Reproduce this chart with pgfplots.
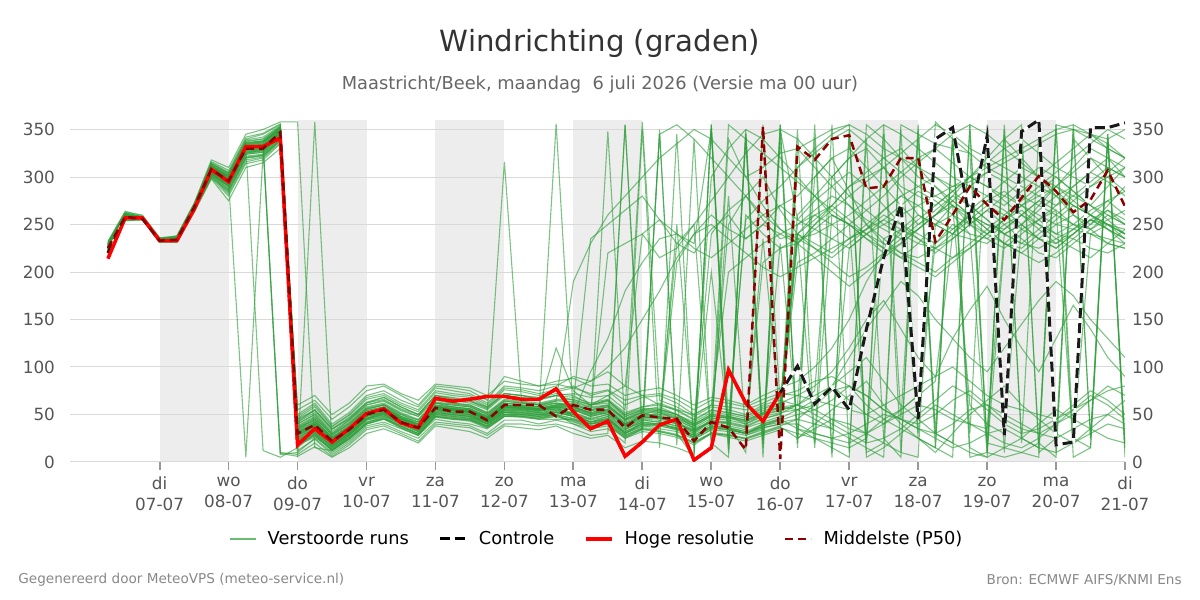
\documentclass[border=0pt]{standalone}
\usepackage{fontspec}
\setmainfont{DejaVu Sans}
\usepackage{pgfplots}
\usepackage{pgfplotstable}
\pgfplotsset{compat=1.18}

\definecolor{runsgreen}{HTML}{2E9E3A}
\definecolor{medianred}{HTML}{8B0000}
\definecolor{bandgrey}{HTML}{EDEDED}
\definecolor{gridgrey}{HTML}{D9D9D9}
\definecolor{ticktext}{HTML}{555555}
\definecolor{titletext}{HTML}{333333}
\definecolor{subtext}{HTML}{666666}
\definecolor{foottext}{HTML}{888888}

% t = days since Monday 6 July 00 uur; c = control, h = high resolution, m = median (P50)
\pgfplotstableread{
t c h m
0.25 220 214 225
0.5 257 257 258
0.75 257 257 256
1 233 233 233
1.25 233 233 234
1.5 266 266 268
1.75 308 308 308
2 295 295 296
2.25 332 332 330
2.5 332 332 330
2.75 341 341 347
3 18 18 30
3.25 35 35 39
3.5 21 21 22
3.75 35 35 34
4 51 51 50
4.25 56 56 55
4.5 41 41 42
4.75 36 36 36
5 67 67 57
5.25 64 64 53
5.5 66 66 53
5.75 69 69 44
6 69 69 60
6.25 66 66 60
6.5 66 66 60
6.75 77 77 48
7 53 53 60
7.25 35 35 55
7.5 43 43 55
7.75 6 6 36
8 21 21 49
8.25 39 39 47
8.5 45 45 45
8.75 2 2 22
9 15 15 42
9.25 97 97 36
9.5 62 62 13
9.75 43 43 353
10 73 73 3
10.25 101 nan 332
10.5 61 nan 318
10.75 79 nan 340
11 55 nan 344
11.25 140 nan 288
11.5 215 nan 290
11.75 271 nan 320
12 45 nan 320
12.25 340 nan 232
12.5 352 nan 260
12.75 255 nan 290
13 343 nan 271
13.25 28 nan 255
13.5 348 nan 278
13.75 360 nan 301
14 18 nan 285
14.25 21 nan 263
14.5 352 nan 276
14.75 352 nan 307
15 357 nan 269
}\mainruns

% perturbed runs: one row per member, one column per 6-hour step
\pgfplotstableread[header=has colnames]{
0.25 0.5 0.75 1 1.25 1.5 1.75 2 2.25 2.5 2.75 3 3.25 3.5 3.75 4 4.25 4.5 4.75 5 5.25 5.5 5.75 6 6.25 6.5 6.75 7 7.25 7.5 7.75 8 8.25 8.5 8.75 9 9.25 9.5 9.75 10 10.25 10.5 10.75 11 11.25 11.5 11.75 12 12.25 12.5 12.75 13 13.25 13.5 13.75 14 14.25 14.5 14.75 15
228 260 255 232 236 270 312 300 335 338 350 35 45 25 38 55 60 48 40 62 58 56 48 62 60 58 62 58 50 55 40 48 52 45 35 42 250 280 300 265 240 255 270 290 300 310 285 260 250 240 265 280 295 310 300 280 260 250 270 290
222 256 258 235 232 265 305 290 325 328 342 25 35 18 30 48 52 42 35 55 52 50 42 55 55 52 55 50 42 48 30 40 40 35 25 38 35 30 40 45 350 20 355 10 340 25 5 350 15 345 30 355 10 340 20 5 350 25 345 15
230 262 258 234 238 272 318 310 345 350 358 358 15 12 28 45 50 40 32 52 50 48 40 52 52 50 52 52 60 70 80 240 255 230 220 245 260 235 250 270 280 300 320 330 310 290 270 250 260 280 300 320 340 355 10 25 340 320 300 310
220 255 257 234 233 266 300 285 320 322 338 28 38 20 32 52 58 46 38 58 56 55 46 60 58 56 60 62 55 60 45 52 48 42 30 45 48 40 50 55 60 70 80 65 50 40 55 70 230 250 240 235 250 260 245 230 240 255 265 250
226 259 256 233 235 268 306 295 5 325 340 30 42 25 35 50 55 45 40 58 55 52 45 58 58 55 58 48 40 45 30 42 40 35 28 38 36 30 38 45 35 25 15 5 355 340 320 300 290 275 260 250 240 230 245 260 275 290 300 285
224 257 255 232 233 267 310 298 332 12 5 15 30 12 25 40 45 38 30 48 45 45 38 50 50 48 50 40 35 38 25 35 32 28 20 30 28 25 32 38 45 60 75 80 70 55 45 35 30 40 55 60 50 40 30 25 35 45 50 40
225 258 257 233 234 268 308 296 330 335 8 10 25 10 22 38 42 35 28 45 42 40 35 48 48 45 45 45 40 42 355 38 40 210 240 260 245 235 250 240 230 245 260 250 235 220 230 245 260 270 255 240 230 225 240 255 270 260 245 230
232 263 260 236 237 271 315 305 340 345 355 5 358 20 30 48 52 42 35 56 54 52 44 58 56 54 56 55 48 52 38 45 44 40 32 42 40 36 42 48 240 260 250 235 245 265 280 270 255 245 260 275 285 270 255 240 250 265 275 260
218 254 255 232 231 263 298 275 310 315 330 45 55 35 45 62 68 58 50 70 68 65 58 72 70 68 72 70 60 65 50 58 62 55 45 55 52 48 58 62 70 80 95 120 150 170 140 110 90 130 160 185 150 120 95 130 165 140 110 90
227 260 257 234 236 269 309 297 331 333 347 32 40 24 36 52 56 46 40 59 56 54 46 60 58 56 60 60 55 50 40 50 55 50 35 300 330 350 340 320 300 280 260 250 265 280 300 315 330 345 355 20 340 320 300 290 280 270 290 310
223 257 256 232 233 266 304 292 326 328 344 22 32 15 28 45 50 40 32 52 50 48 40 52 52 50 52 48 42 45 32 40 38 34 26 36 34 30 38 44 50 55 45 35 30 40 50 60 55 45 40 35 240 250 235 225 240 255 250 240
229 261 257 233 235 269 310 300 333 336 350 38 48 28 40 56 60 50 42 62 60 58 50 64 62 60 64 190 230 260 280 300 320 335 350 340 320 300 310 325 330 340 350 355 345 330 320 310 300 290 295 305 315 325 335 345 350 340 330 320
221 256 257 234 234 267 303 288 322 324 340 20 30 14 26 42 48 38 30 50 48 46 38 50 50 48 50 45 38 42 28 36 35 32 24 34 32 28 36 40 40 30 25 20 30 45 55 70 85 240 260 245 230 220 235 250 260 245 230 225
226 258 256 233 234 268 307 296 330 331 346 30 40 22 34 50 55 45 38 57 55 53 45 58 57 55 58 58 52 56 42 50 48 44 36 46 44 40 48 52 55 60 80 110 140 165 190 175 150 130 110 95 120 145 170 190 175 150 130 110
231 262 258 235 236 270 314 304 338 340 353 40 50 30 42 58 62 52 45 65 62 60 52 316 62 60 62 62 235 250 265 280 255 240 225 215 230 245 260 270 255 245 235 225 240 255 270 285 275 260 250 240 255 270 280 290 275 260 250 240
219 255 255 232 232 264 301 282 316 320 336 26 36 18 30 46 52 42 34 54 52 50 42 55 54 52 356 50 44 48 34 42 40 36 28 38 36 32 40 46 55 65 80 95 110 85 60 45 30 20 10 5 15 25 40 55 45 35 25 20
225 257 256 233 234 268 308 296 330 332 346 34 42 26 38 54 58 48 42 60 58 56 48 62 60 58 120 75 60 65 48 55 58 50 40 240 265 280 255 235 240 230 220 235 250 265 280 290 300 285 270 255 240 250 265 280 290 305 320 310
224 258 257 233 234 267 306 293 328 330 345 24 34 16 30 46 50 42 34 52 50 48 42 54 52 50 54 50 45 348 35 42 345 355 340 320 300 280 260 245 235 225 215 230 245 260 250 240 230 245 260 275 265 250 235 225 240 255 245 235
227 259 256 234 235 269 309 297 331 333 348 36 44 26 36 52 56 46 40 58 56 54 46 60 58 56 60 60 55 58 44 50 50 46 38 48 46 42 50 54 60 75 300 320 330 310 290 280 270 285 300 315 330 340 325 310 300 290 305 320
228 260 258 235 236 270 311 301 334 337 351 42 52 32 44 60 65 55 48 68 65 62 55 70 68 65 70 72 68 70 55 358 65 58 48 58 55 50 60 65 60 55 65 80 70 55 45 40 50 65 75 60 45 35 30 40 50 65 80 70
223 256 255 232 233 266 305 294 327 329 345 28 36 20 32 48 54 44 36 56 54 52 44 56 56 54 56 52 46 50 36 44 42 38 30 40 38 34 210 225 235 240 250 260 275 290 305 320 330 315 300 290 280 270 260 250 245 240 235 230
230 261 257 234 237 271 313 303 337 340 353 48 60 38 50 68 72 62 55 75 72 70 60 78 76 72 76 80 70 75 60 68 70 62 50 60 58 55 62 70 75 85 90 80 60 45 35 25 15 5 355 345 330 315 300 285 270 260 250 245
222 257 258 233 233 266 303 290 324 326 342 18 28 12 24 40 46 36 28 48 46 44 36 48 48 46 48 42 36 40 26 34 32 28 20 30 28 24 30 36 30 25 20 15 25 355 45 340 30 20 350 10 5 10 20 355 25 15 345 5
226 259 257 234 235 268 307 295 329 331 346 32 40 24 36 50 56 46 38 58 56 54 46 58 58 56 58 58 52 55 40 48 48 230 250 275 300 325 345 350 340 320 300 280 265 250 240 230 225 235 250 265 280 295 310 300 285 270 260 250
220 255 256 232 232 265 300 284 318 321 338 55 65 45 58 75 80 70 60 80 78 75 65 90 85 80 85 88 80 82 70 75 78 70 60 68 65 60 70 78 85 100 120 150 190 220 245 260 250 240 235 230 245 260 275 265 250 240 230 225
229 261 258 235 236 270 312 302 336 338 352 12 24 8 20 36 40 32 25 42 40 38 30 44 44 40 44 40 32 35 20 350 15 345 10 355 20 340 5 350 255 275 290 305 290 270 250 235 220 235 250 265 250 235 220 215 230 245 260 250
225 258 257 233 234 267 307 296 330 332 347 30 38 22 34 50 55 44 38 56 55 53 45 58 57 55 58 55 48 52 38 46 46 40 32 42 355 340 325 310 295 280 265 250 235 225 240 255 270 285 300 290 275 260 250 240 235 225 220 230
224 257 255 233 234 267 306 294 328 330 345 26 35 18 30 46 52 42 36 54 52 50 42 54 54 52 54 52 45 50 34 44 42 38 28 200 36 32 235 48 310 330 345 355 5 15 30 45 60 50 40 30 20 15 25 40 55 70 60 45
228 260 257 234 235 269 310 299 332 334 349 36 46 28 40 56 60 50 44 62 60 58 50 64 62 60 64 64 58 60 46 54 54 48 40 50 48 44 52 58 60 50 40 30 20 25 35 50 65 80 70 55 40 30 35 45 60 75 65 50
227 259 257 233 235 268 309 298 332 334 10 8 20 6 18 34 38 30 22 40 38 36 28 40 40 38 40 35 28 30 355 24 350 18 340 20 5 345 22 355 20 355 10 345 10 20 350 25 15 340 5 10 355 25 15 350 5 15 340 20
221 256 256 233 233 266 302 287 321 323 339 22 30 16 28 44 48 40 32 50 48 46 40 52 50 48 52 50 42 46 32 40 40 36 26 36 34 30 38 42 45 40 35 225 240 250 260 270 280 290 300 310 320 330 340 350 355 345 330 320
232 264 259 236 238 272 316 307 342 346 356 50 62 40 52 70 75 65 58 78 75 72 62 80 78 75 80 90 85 95 80 70 60 55 50 60 200 215 230 240 250 260 270 255 240 230 220 215 225 240 255 270 260 245 235 230 245 260 275 285
223 257 256 233 234 267 305 293 327 329 344 24 32 17 30 46 51 41 34 53 51 49 41 53 53 51 53 48 42 46 30 38 38 34 26 36 34 30 36 40 240 225 210 195 205 220 235 250 265 280 270 255 240 230 225 235 245 255 245 235
226 258 257 234 235 268 308 297 331 332 9 6 16 5 15 30 35 28 20 38 35 32 25 38 36 34 38 30 25 28 15 22 20 15 8 355 12 350 15 340 25 35 45 40 30 20 10 5 358 340 325 310 300 290 280 270 280 295 310 300
229 260 257 234 236 270 311 300 334 336 350 44 54 34 46 62 66 56 50 70 66 64 56 72 70 66 70 68 62 66 52 58 60 54 44 54 52 48 56 62 260 280 300 320 340 355 345 330 315 300 290 280 270 285 300 315 330 345 335 320
220 254 255 231 232 263 299 280 314 318 335 60 70 50 62 80 82 72 65 82 80 78 70 85 82 80 82 78 72 76 65 70 72 66 55 65 62 58 66 72 70 65 60 55 50 60 70 80 90 100 85 70 60 55 50 45 55 65 75 80
225 258 256 233 234 268 307 296 330 331 346 30 39 22 34 50 55 45 38 57 55 53 45 58 57 55 58 56 50 54 40 48 46 42 34 44 42 38 46 50 230 215 200 185 200 215 230 245 260 275 260 245 230 220 210 220 235 250 265 255
227 259 256 234 235 269 309 297 331 333 348 34 44 26 38 54 58 48 42 60 58 56 48 62 60 58 62 60 54 58 44 52 52 46 38 48 46 255 275 290 310 325 340 350 335 320 305 290 280 270 260 250 245 260 275 290 305 320 310 300
222 256 257 233 233 266 304 291 325 327 343 18 26 14 26 42 46 38 30 48 46 44 38 50 48 46 50 46 40 44 30 38 36 250 24 34 280 28 34 230 35 30 25 30 40 50 45 35 25 15 20 30 35 25 15 10 20 30 40 35
228 261 258 235 236 270 311 301 335 337 352 40 50 30 44 60 64 54 48 66 62 60 52 66 64 62 66 66 60 64 50 56 56 50 42 52 50 46 54 60 250 265 280 270 255 245 235 245 260 275 290 305 295 280 270 260 250 245 255 265
224 258 256 233 234 267 306 294 329 331 346 28 37 20 32 48 53 43 37 55 53 51 43 56 55 53 56 50 95 130 180 210 235 240 230 350 10 345 20 355 15 340 5 350 20 345 10 355 30 340 15 5 350 20 345 10 355 25 340 15
227 259 257 234 235 268 309 298 332 334 349 33 42 25 36 52 57 47 40 59 57 55 47 60 59 57 60 58 52 220 230 240 215 225 250 20 340 300 270 245 230 250 270 290 305 320 330 310 290 270 250 235 225 240 255 270 290 305 295 280
223 256 256 232 233 266 304 292 326 328 343 23 32 16 28 44 49 40 33 51 49 47 40 52 51 49 52 48 40 44 28 36 345 30 5 350 40 10 355 60 240 15 260 250 20 235 245 30 250 260 240 10 230 245 255 265 20 240 250 235
229 261 258 235 236 270 312 302 336 338 352 42 55 35 47 63 68 58 50 70 67 64 57 72 70 67 70 65 60 62 48 55 55 50 40 50 48 44 52 58 55 45 35 25 15 5 355 345 335 330 325 20 15 10 5 355 350 345 340 350
221 255 256 232 232 265 302 286 320 323 339 20 28 12 24 40 45 36 28 47 45 43 36 48 47 45 48 44 38 40 25 32 30 26 18 30 26 22 28 34 330 310 290 270 250 235 220 210 200 215 230 245 260 275 290 305 320 335 350 340
226 258 257 234 235 268 308 297 331 333 347 31 40 23 35 51 56 46 39 58 56 54 46 59 58 56 59 57 51 54 39 47 47 41 33 43 41 37 45 51 60 300 320 285 250 230 215 230 250 270 60 40 30 250 270 290 310 330 320 300
228 260 257 234 235 269 310 299 333 335 350 37 47 29 41 57 61 51 44 63 61 59 51 65 63 61 65 63 57 59 45 53 53 47 39 49 47 43 51 57 210 220 235 250 240 225 215 205 195 210 225 240 255 265 250 235 225 215 230 245
222 256 257 233 233 266 303 290 324 326 342 19 28 13 25 41 47 37 29 49 47 45 37 49 49 47 49 43 37 41 27 35 33 29 21 31 29 25 31 37 25 40 55 70 85 60 40 25 10 30 50 65 80 60 45 30 20 35 50 65
225 257 256 233 234 268 307 295 329 330 345 29 38 21 33 49 54 44 37 56 54 52 44 57 56 54 57 55 49 53 39 47 47 41 33 43 41 260 240 225 230 250 265 280 295 310 325 340 355 345 330 320 310 300 290 280 270 260 250 240
230 262 258 235 237 271 314 304 339 342 354 46 58 37 49 66 70 60 53 73 70 68 58 76 74 70 74 78 85 100 120 150 180 215 240 250 235 220 205 195 205 215 225 235 245 255 245 235 225 215 225 240 255 270 285 300 285 270 255 240
}\ensraw
\pgfplotstabletranspose{\ens}{\ensraw}

\pgfplotsset{
  windframe/.style={
    at={(35pt,69pt)}, anchor=south west,
    scale only axis, width=527.5pt, height=171pt,
    xmin=-0.3, xmax=15, ymin=0, ymax=360,
    ytick={0,50,...,350},
    axis line style={draw=none},
    ytick style={draw=none},
    /pgf/number format/assume math mode=true,
    yticklabel style={font=\fontsize{8.4}{10}\selectfont, text=ticktext},
  },
}

\begin{document}
\begin{tikzpicture}[x=1pt,y=1pt]
\coordinate (canvasorigin) at (0pt,0pt);

\begin{axis}[
  windframe,
  set layers,
  xtick={1,...,15},
  xticklabels={{di\\07-07},{wo\\08-07},{do\\09-07},{vr\\10-07},{za\\11-07},{zo\\12-07},{ma\\13-07},{di\\14-07},{wo\\15-07},{do\\16-07},{vr\\17-07},{za\\18-07},{zo\\19-07},{ma\\20-07},{di\\21-07}},
  xticklabel style={align=center, font=\fontsize{8.4}{10.5}\selectfont, text=ticktext},
  xtick pos=bottom, tick align=outside,
  major tick length=4pt,
  xtick style={draw=gray!80, line width=0.9pt},
  ymajorgrids, grid style={gridgrey, line width=0.5pt},
  legend columns=4,
  legend style={at={(0.5005,-0.225)}, anchor=center, draw=none, fill=none,
    font=\fontsize{8.9}{10}\selectfont,
    /tikz/every odd column/.append style={column sep=3.5pt},
    /tikz/every even column/.append style={column sep=13pt}},
  legend image code/.code={\draw[#1] (0pt,0pt) -- (13pt,0pt);},
]
\begin{pgfonlayer}{axis background}
  \fill[bandgrey] (1,0) rectangle (2,360);
  \fill[bandgrey] (3,0) rectangle (4,360);
  \fill[bandgrey] (5,0) rectangle (6,360);
  \fill[bandgrey] (7,0) rectangle (8,360);
  \fill[bandgrey] (9,0) rectangle (10,360);
  \fill[bandgrey] (11,0) rectangle (12,360);
  \fill[bandgrey] (13,0) rectangle (14,360);
\end{pgfonlayer}

\addlegendimage{runsgreen, line width=0.55pt, opacity=0.7}
\addlegendentry{Verstoorde runs}
\addlegendimage{black, line width=1.5pt, dash pattern=on 5pt off 2.5pt}
\addlegendentry{Controle}
\addlegendimage{red, line width=1.75pt}
\addlegendentry{Hoge resolutie}
\addlegendimage{medianred, line width=1.25pt, dash pattern=on 4pt off 2.5pt}
\addlegendentry{Middelste (P50)}

\pgfplotsinvokeforeach{1,...,50}{
  \addplot[runsgreen, line width=0.55pt, opacity=0.62, forget plot]
    table[x index=0, y index=#1] {\ens};
}
% control run: white casing under the dashes
\addplot[white, line width=1.5pt, forget plot]
  table[x=t, y=c] {\mainruns};
\addplot[black!90, line width=1.5pt, dash pattern=on 5pt off 2.5pt, forget plot]
  table[x=t, y=c] {\mainruns};
\addplot[red, line width=1.75pt, forget plot]
  table[x=t, y=h] {\mainruns};
\addplot[medianred, line width=1.25pt, dash pattern=on 4pt off 2.5pt, forget plot]
  table[x=t, y=m] {\mainruns};
\end{axis}

% right-hand value labels
\begin{axis}[
  windframe,
  hide x axis,
  axis y line*=right,
  yticklabel pos=right,
]
\addplot[draw=none] coordinates {(0,0)};
\end{axis}

\node[font=\fontsize{14.6}{17}\selectfont, text=titletext] at (300pt,278.5pt) {Windrichting (graden)};
\node[font=\fontsize{8.9}{10}\selectfont, text=subtext] at (300pt,257.5pt) {Maastricht/Beek, maandag\ \ 6 juli 2026 (Versie ma 00 uur)};
\node[anchor=west, inner sep=0pt, font=\fontsize{6.8}{8}\selectfont, text=foottext] at (9pt,10pt) {Gegenereerd door MeteoVPS (meteo-service.nl)};
\node[anchor=east, inner sep=0pt, font=\fontsize{6.8}{8}\selectfont, text=foottext] at (591pt,10pt) {Bron: ECMWF AIFS/KNMI Ens};

\pgfresetboundingbox
\useasboundingbox (0pt,0pt) rectangle (600pt,300pt);
\end{tikzpicture}
\end{document}
